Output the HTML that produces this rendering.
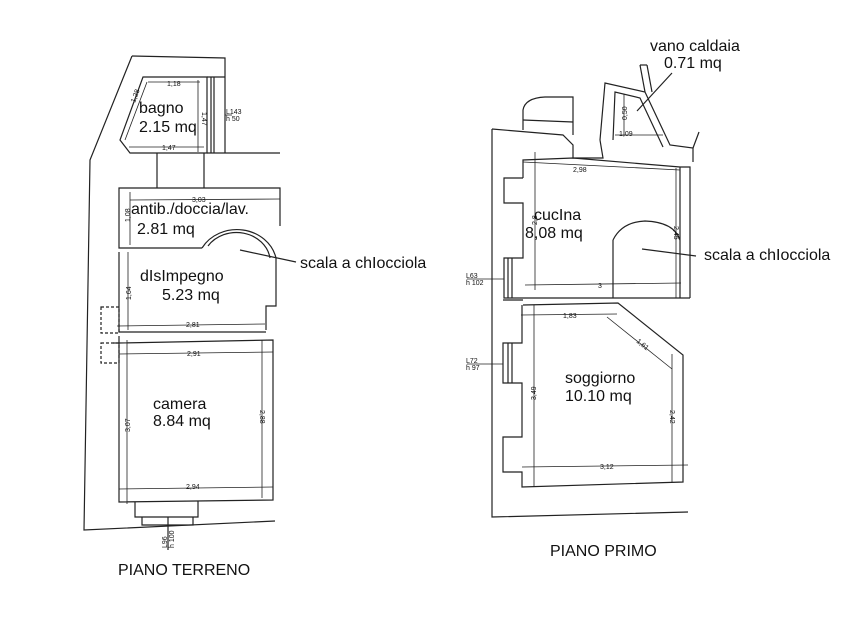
<!DOCTYPE html>
<html><head><meta charset="utf-8"><style>
html,body{margin:0;padding:0;background:#fff;}
svg{display:block;}
text{font-family:"Liberation Sans",sans-serif;fill:#111;}
.d{font-size:7px;}
</style></head><body>
<svg width="864" height="624" viewBox="0 0 864 624" xmlns="http://www.w3.org/2000/svg">
<g fill="none" stroke="#222" stroke-width="1.2">
<!-- LEFT PLAN -->
<polyline points="132,56 225,58 225,153"/>
<polyline points="132,56 90,160 84,530 275,521"/>
<polygon points="143,77 207,77 207,153 130,153 120,140"/>
<line x1="207" y1="77" x2="225" y2="77"/>
<line x1="211" y1="77" x2="211" y2="153"/><line x1="214" y1="77" x2="214" y2="153"/>
<line x1="207" y1="153" x2="280" y2="153"/>
<line x1="157" y1="153" x2="157" y2="188"/><line x1="204" y1="153" x2="204" y2="188"/>
<polyline points="202,248 119,248 119,188 280,188 280,226"/>
<path d="M202,248 A40,36 0 0 1 276,258"/>
<path d="M208,246 A34,30 0 0 1 270,258"/>
<polyline points="276,258 276,306 266,306 266,330"/>
<polyline points="119,252 119,332 266,332"/>
<polyline points="119,336 119,502 273,500 273,340 119,343"/>
<line x1="113" y1="343" x2="119" y2="343"/>
<rect x="101" y="307" width="18" height="26" stroke-dasharray="3,2"/>
<rect x="101" y="343" width="18" height="20" stroke-dasharray="3,2"/>
<polyline points="135,502 135,517 198,517 198,501"/>
<polyline points="142,517 142,525 193,525 193,517"/>
<line x1="168" y1="517" x2="168" y2="550"/>
<g stroke-width="0.8">
<line x1="148" y1="82" x2="200" y2="82"/><line x1="129" y1="147" x2="204" y2="147"/>
<line x1="198" y1="80" x2="198" y2="152"/><line x1="125" y1="140" x2="147" y2="82"/>
<line x1="130" y1="200" x2="280" y2="199"/><line x1="130" y1="192" x2="130" y2="245"/>
<line x1="128" y1="252" x2="128" y2="330"/><line x1="117" y1="326" x2="265" y2="324"/>
<line x1="119" y1="354" x2="273" y2="352"/><line x1="127" y1="340" x2="127" y2="504"/>
<line x1="262" y1="340" x2="262" y2="498"/><line x1="119" y1="489" x2="273" y2="487"/>
<line x1="225" y1="115" x2="232" y2="115"/>
</g>
<!-- RIGHT PLAN -->
<polyline points="492,129 492,517 688,512"/>
<polyline points="492,129 563,135 573,145 573,158 603,158 600,140"/>
<path d="M523,130 L523,110 Q525,98 545,97 L573,97 L573,135"/>
<line x1="523" y1="120" x2="573" y2="122"/>
<polyline points="600,140 605,83 645,92 670,145 693,148 693,162"/>
<line x1="693" y1="148" x2="699" y2="132"/>
<polyline points="613,140 615,92 640,98 663,147"/>
<line x1="640" y1="65" x2="645" y2="92"/><line x1="647" y1="65" x2="652" y2="92"/><line x1="640" y1="65" x2="647" y2="65"/>
<polyline points="523,178 523,160 573,158 680,167 690,167 690,298"/>
<polyline points="523,178 504,178 504,203 523,203 523,258 504,258 504,298 690,298"/>
<line x1="508" y1="258" x2="508" y2="298"/><line x1="512" y1="258" x2="512" y2="298"/>
<line x1="613" y1="298" x2="613" y2="240"/>
<path d="M613,240 Q622,222 645,221 Q674,222 680,240"/>
<line x1="680" y1="167" x2="680" y2="298"/>
<polyline points="523,305 618,303 683,355 683,482 522,487 522,472 503,472 503,437 522,437 522,383 503,383 503,343 522,343 522,305"/>
<line x1="508" y1="343" x2="508" y2="383"/><line x1="512" y1="343" x2="512" y2="383"/>
<line x1="503" y1="300" x2="523" y2="300"/>
<g stroke-width="0.8">
<line x1="523" y1="162" x2="680" y2="170"/><line x1="535" y1="152" x2="535" y2="290"/>
<line x1="676" y1="168" x2="676" y2="298"/><line x1="525" y1="285" x2="681" y2="283"/>
<line x1="521" y1="315" x2="617" y2="314"/><line x1="534" y1="305" x2="534" y2="487"/>
<line x1="607" y1="317" x2="672" y2="369"/><line x1="672" y1="354" x2="672" y2="482"/>
<line x1="522" y1="467" x2="688" y2="465"/>
<line x1="624" y1="94" x2="624" y2="136"/><line x1="615" y1="135" x2="663" y2="135"/>
<line x1="467" y1="279" x2="504" y2="279"/><line x1="467" y1="364" x2="503" y2="364"/>
</g>
<line x1="240" y1="250" x2="296" y2="262"/>
<line x1="642" y1="249" x2="696" y2="256"/>
<line x1="637" y1="111" x2="672" y2="73"/>
</g>
<g font-size="16">
<text x="139" y="113">bagno</text>
<text x="139" y="132">2.15 mq</text>
<text x="131" y="214">antib./doccia/lav.</text>
<text x="137" y="234">2.81 mq</text>
<text x="140" y="281">dIsImpegno</text>
<text x="162" y="300">5.23 mq</text>
<text x="153" y="409">camera</text>
<text x="153" y="426">8.84 mq</text>
<text x="300" y="268">scala a chIocciola</text>
<text x="118" y="575">PIANO TERRENO</text>
<text x="534" y="220">cucIna</text>
<text x="525" y="238">8,08 mq</text>
<text x="704" y="260">scala a chIocciola</text>
<text x="565" y="383">soggiorno</text>
<text x="565" y="401">10.10 mq</text>
<text x="650" y="51">vano caldaia</text>
<text x="664" y="68">0.71 mq</text>
<text x="550" y="556">PIANO PRIMO</text>
</g>
<g class="d">
<text x="167" y="86">1,18</text><text x="162" y="150">1,47</text>
<text x="226" y="114">L143</text><text x="226" y="121">h 50</text>
<text x="192" y="202">3,03</text><text x="186" y="327">2,81</text>
<text x="187" y="356">2,91</text><text x="186" y="489">2,94</text>
<text x="573" y="172">2,98</text><text x="598" y="288">3</text>
<text x="563" y="318">1,83</text>
<text x="619" y="136">1,09</text>
<text x="466" y="278">L63</text><text x="466" y="285">h 102</text>
<text x="466" y="363">L72</text><text x="466" y="370">h 97</text>
<text x="600" y="469">3,12</text>
</g>
<g class="d">
<text transform="translate(130,222) rotate(-90)">1,08</text>
<text transform="translate(131,300) rotate(-90)">1,64</text>
<text transform="translate(130,432) rotate(-90)">3,07</text>
<text transform="translate(260,410) rotate(90)">2,88</text>
<text transform="translate(202,112) rotate(90)">1,47</text>
<text transform="translate(135,103) rotate(-70)">1,28</text>
<text transform="translate(537,225) rotate(-90)">2,8</text>
<text transform="translate(674,226) rotate(90)">2,45</text>
<text transform="translate(536,400) rotate(-90)">3,49</text>
<text transform="translate(670,410) rotate(90)">2,42</text>
<text transform="translate(636,342) rotate(39)">1,61</text>
<text transform="translate(627,120) rotate(-90)">0,50</text>
<text transform="translate(167,548) rotate(-90)">L96</text>
<text transform="translate(174,548) rotate(-90)">h 100</text>
</g>
</svg>
</body></html>
